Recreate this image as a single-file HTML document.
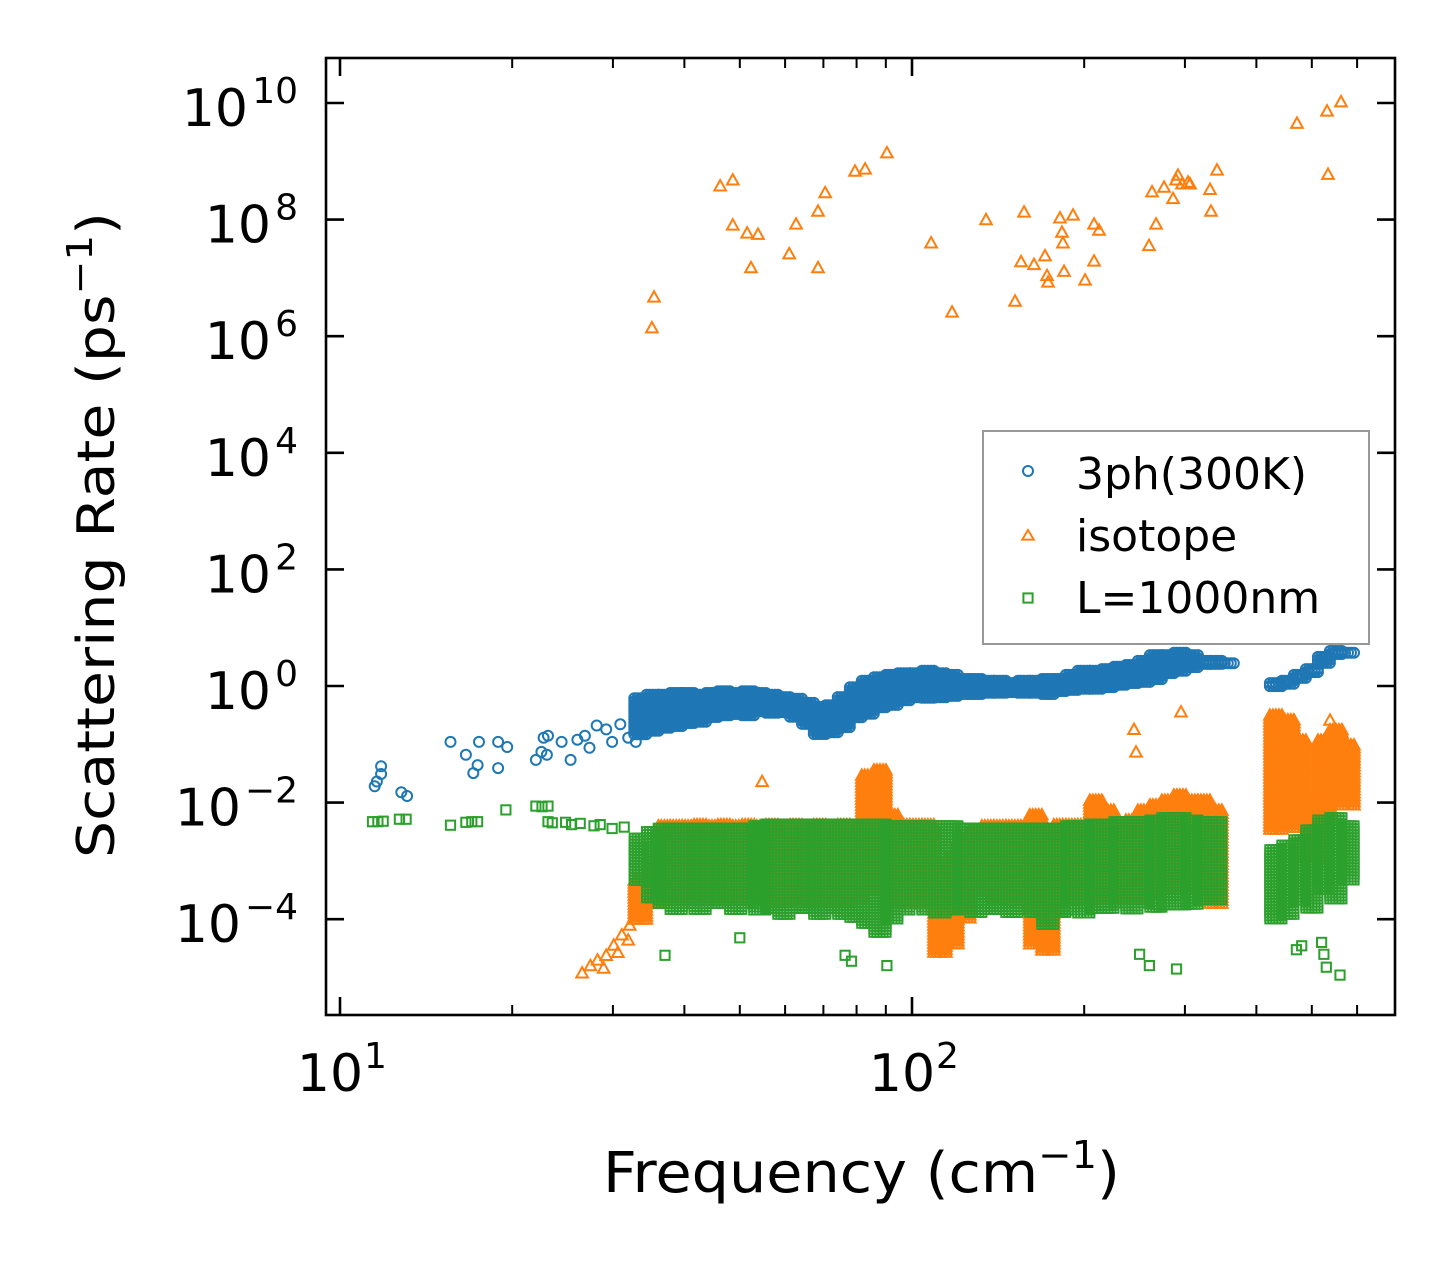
<!DOCTYPE html>
<html><head><meta charset="utf-8"><style>
html,body{margin:0;padding:0;background:#fff}
svg{display:block;font-family:"DejaVu Sans","Liberation Sans",sans-serif}
</style></head><body>
<svg id="chart" width="1455" height="1265" viewBox="0 0 1455 1265" xmlns="http://www.w3.org/2000/svg">
<rect width="1455" height="1265" fill="#fff"/>
<g id="marks"></g>
<g id="axes"></g>
</svg>
<script>
// ---- data ----
const xTickExps = [1, 2];
const yTickExps = [-4, -2, 0, 2, 4, 6, 8, 10];
const xMinorVals = [20,30,40,50,60,70,80,90,200,300,400,500,600];
// shared column frequencies for dense bands (cm^-1)
const colFreq = [33.5,35.2,36.9,38.7,40.6,42.6,44.7,46.9,49.2,51.7,54.2,56.9,59.7,62.7,65.8,69.0,72.4,76.0,79.8,83.7,87.9,92.2,96.8,101.6,106.6,111.9,117.4,123.2,129.3,135.7,142.4,149.5,156.9,164.6,172.8,181.3,190.3,199.7,209.6,220.0,230.9,242.3,254.3,266.9,280.1,294.0,308.5,323.8,339.8,356.6,374.3,392.8,412.3,432.7,454.1,476.6,500.2,525.0,551.0,578.3];
// 3ph dense band (log10 rate, upper / lower)
const ph3LogHi = [-0.21,-0.15,-0.15,-0.12,-0.12,-0.15,-0.12,-0.09,-0.12,-0.09,-0.12,-0.15,-0.19,-0.22,-0.29,-0.36,-0.33,-0.19,-0.02,0.09,0.15,0.19,0.22,0.22,0.26,0.22,0.19,0.12,0.12,0.09,0.09,0.05,0.09,0.09,0.12,0.12,0.19,0.26,0.26,0.29,0.33,0.36,0.43,0.53,0.53,0.57,0.53,0.43,0.43,0.39,null,null,null,0.05,0.09,0.19,0.29,0.50,0.60,0.57];
const ph3LogLo = [-0.87,-0.81,-0.75,-0.70,-0.67,-0.63,-0.58,-0.53,-0.50,-0.50,-0.46,-0.46,-0.46,-0.53,-0.67,-0.87,-0.84,-0.75,-0.58,-0.50,-0.39,-0.33,-0.29,-0.24,-0.22,-0.19,-0.19,-0.15,-0.15,-0.12,-0.12,-0.12,-0.15,-0.12,-0.15,-0.12,-0.09,-0.09,-0.05,-0.05,0.02,0.05,0.05,0.12,0.19,0.22,0.29,0.33,0.33,0.36,null,null,null,-0.02,0.02,0.09,0.19,0.36,0.50,0.53];
// isotope dense band
const isoLogHi = [-3.33,-3.16,-2.40,-2.40,-2.40,-2.38,-2.40,-2.38,-2.40,-2.38,-2.40,-2.38,-2.40,-2.38,-2.40,-2.38,-2.40,-2.38,-2.40,-1.53,-1.44,-2.21,-2.38,-2.38,-2.38,-3.33,-2.98,-2.64,-2.47,-2.40,-2.40,-2.40,-2.40,-2.21,-2.47,-2.38,-2.38,-2.38,-1.96,-2.13,-2.40,-2.30,-2.13,-2.04,-1.96,-1.87,-1.96,-1.96,-2.13,null,null,null,null,-0.50,-0.58,-0.93,-1.96,-0.93,-0.75,-1.01];
const isoLogLo = [-4.01,-3.76,-3.67,-3.67,-3.67,-3.67,-3.67,-3.67,-3.67,-3.67,-3.67,-3.67,-3.67,-3.67,-3.67,-3.67,-3.67,-3.67,-3.67,-3.50,-3.33,-3.50,-3.76,-3.76,-3.76,-4.61,-4.44,-4.01,-3.50,-3.50,-3.67,-3.67,-3.67,-4.44,-4.53,-3.67,-3.67,-3.67,-3.50,-3.67,-3.67,-3.67,-3.58,-3.50,-3.50,-3.33,-3.33,-3.50,-3.76,null,null,null,null,-2.47,-2.30,-2.47,-2.98,-2.30,-1.96,-2.04];
// boundary (L=1000nm) dense band
const bdLogHi = [-2.61,-2.50,-2.44,-2.44,-2.44,-2.44,-2.44,-2.44,-2.44,-2.44,-2.40,-2.37,-2.37,-2.37,-2.37,-2.37,-2.37,-2.37,-2.37,-2.37,-2.37,-2.40,-2.40,-2.40,-2.40,-2.40,-2.40,-2.44,-2.44,-2.44,-2.44,-2.44,-2.44,-2.44,-2.44,-2.44,-2.40,-2.40,-2.37,-2.37,-2.33,-2.33,-2.33,-2.30,-2.26,-2.26,-2.30,-2.33,-2.33,null,null,null,null,-2.81,-2.73,-2.64,-2.47,-2.30,-2.26,-2.40];
const bdLogLo = [-3.33,-3.67,-3.76,-3.84,-3.76,-3.84,-3.76,-3.76,-3.84,-3.76,-3.84,-3.84,-3.93,-3.84,-3.84,-3.93,-3.84,-3.93,-4.01,-4.10,-4.27,-4.01,-3.84,-3.76,-3.84,-3.93,-3.84,-3.84,-3.93,-3.84,-3.84,-3.93,-3.84,-3.93,-4.10,-3.93,-3.84,-3.93,-3.84,-3.84,-3.76,-3.84,-3.76,-3.84,-3.76,-3.76,-3.76,-3.67,-3.67,null,null,null,null,-4.01,-3.93,-3.67,-3.84,-3.50,-3.67,-3.33];
// sparse points
const ph3Freq = [11.5,11.6,11.8,11.8,12.8,13.1,15.6,16.6,17.5,17.1,17.4,18.9,18.9,19.6,22.0,22.5,22.7,23.1,23.0,24.4,25.3,26.0,26.8,27.3,28.1,29.2,29.9,30.9,31.9,32.9];
const ph3Rate = [0.019,0.023,0.042,0.031,0.015,0.013,0.11,0.066,0.11,0.032,0.044,0.11,0.039,0.09,0.054,0.074,0.13,0.14,0.066,0.11,0.054,0.12,0.14,0.087,0.21,0.18,0.11,0.22,0.13,0.11];
const isoFreq = [35.1,35.4,46.2,48.6,48.6,51.5,52.3,53.8,61.0,62.7,68.5,68.5,70.5,79.5,82.8,90.4,108,117.5,134.7,151.4,155.1,157,163.4,170.8,172.2,172.9,181.4,182.9,183.6,184.4,191.2,200.7,208.1,208.1,212.3,259.6,262.8,267.1,275.8,286,289.5,291.7,296.5,303.8,306.2,331.9,333.2,341.4,471,531.6,533.7,562.3,244.4,246.4,295.3,54.7,538,26.5,27.4,28.2,29.2,30.1,31.1,32.1,32.9,28.9,30.6,31.9];
const isoRate = [1.4e6,4.7e6,3.8e8,4.8e8,8.1e7,5.9e7,1.5e7,5.6e7,2.6e7,8.4e7,1.5e7,1.4e8,2.9e8,6.8e8,7.4e8,1.4e9,4.0e7,2.6e6,1.0e8,4.0e6,1.9e7,1.35e8,1.7e7,2.4e7,1.1e7,8.5e6,1.07e8,6.1e7,4.0e7,1.3e7,1.2e8,9.2e6,1.95e7,8.4e7,6.6e7,3.6e7,3.0e8,8.4e7,3.6e8,2.3e8,4.8e8,5.8e8,4.1e8,4.4e8,4.1e8,3.3e8,1.4e8,7.1e8,4.5e9,7.3e9,6.0e8,1.05e10,0.18,0.074,0.36,0.023,0.26,1.2e-5,1.6e-5,2.0e-5,2.4e-5,3.6e-5,5.4e-5,7.9e-5,1.2e-4,1.45e-5,2.7e-5,4.4e-5];
const bdFreq = [11.4,11.65,11.9,12.7,13.05,15.6,16.6,17.0,17.4,19.5,22.0,22.55,23.1,23.1,23.5,24.8,25.4,26.3,27.8,28.5,29.9,31.4,50,37.0,76.4,78.4,90.4,260,290,250,560,520,525,530,480,470];
const bdRate = [0.0047,0.0047,0.0048,0.0052,0.0052,0.0041,0.0046,0.0047,0.0047,0.0075,0.0087,0.0085,0.0087,0.0047,0.0045,0.0046,0.0042,0.0044,0.0040,0.0042,0.0036,0.0038,4.8e-5,2.4e-5,2.4e-5,1.9e-5,1.6e-5,1.6e-5,1.4e-5,2.5e-5,1.1e-5,4e-5,2.5e-5,1.5e-5,3.5e-5,3e-5];

// ---- axes mapping ----
const X0=340, XDEC=572, Y0=686, YDEC=58.3;
const PL=326, PR=1395, PT=58, PB=1015;
function xs(f){return X0+(Math.log10(f)-1)*XDEC;}
function ysLog(l){return Y0-l*YDEC;}
function ys(v){return ysLog(Math.log10(v));}

const NS="http://www.w3.org/2000/svg";
const marks=document.getElementById('marks');
const axes=document.getElementById('axes');
function mk(tag,attrs,parent){const e=document.createElementNS(NS,tag);for(const k in attrs)e.setAttribute(k,attrs[k]);(parent||marks).appendChild(e);return e;}

const C_BLUE="#1f77b4", C_OR="#ff7f0e", C_GR="#2ca02c";
function circle(x,y,g){return mk('circle',{cx:x.toFixed(1),cy:y.toFixed(1),r:5,fill:'none',stroke:C_BLUE,'stroke-width':2},g);}
function tri(x,y,g){const s=5.8;return mk('polygon',{points:`${x},${y-s} ${x-s},${y+s*0.8} ${x+s},${y+s*0.8}`,fill:'none',stroke:C_OR,'stroke-width':2},g);}
function sq(x,y,g){return mk('rect',{x:(x-4.6).toFixed(1),y:(y-4.6).toFixed(1),width:9.2,height:9.2,fill:'none',stroke:C_GR,'stroke-width':2},g);}

function drawBand(g,hi,lo,fn){
  for(let i=0;i<colFreq.length;i++){
    if(hi[i]==null||lo[i]==null)continue;
    const x=xs(colFreq[i]);
    const yTop=ysLog(hi[i]), yBot=ysLog(lo[i]);
    for(let dx=-6;dx<=6;dx+=3){
      for(let y=yTop;y<=yBot+0.1;y+=3){fn(x+dx,y,g);}
    }
  }
}

const gB=mk('g',{});


ph3Freq.forEach((f,i)=>circle(xs(f),ys(ph3Rate[i]),gB));
drawBand(gB,ph3LogHi,ph3LogLo,circle);
const gO=mk('g',{});


isoFreq.forEach((f,i)=>tri(xs(f),ys(isoRate[i]),gO));
drawBand(gO,isoLogHi,isoLogLo,tri);
const gG=mk('g',{});


bdFreq.forEach((f,i)=>sq(xs(f),ys(bdRate[i]),gG));
drawBand(gG,bdLogHi,bdLogLo,sq);

const cp=mk('clipPath',{id:'pc'},document.getElementById('chart'));
mk('rect',{x:PL,y:PT,width:PR-PL,height:PB-PT},cp);
marks.setAttribute('clip-path','url(#pc)');

const frame=mk('rect',{x:PL,y:PT,width:PR-PL,height:PB-PT,fill:'none',stroke:'#000','stroke-width':2.6},axes);



xTickExps.forEach(e=>{
  const x=xs(Math.pow(10,e));
  mk('line',{x1:x,x2:x,y1:PB,y2:PB-18,stroke:'#000','stroke-width':2.6},axes);
  mk('line',{x1:x,x2:x,y1:PT,y2:PT+18,stroke:'#000','stroke-width':2.6},axes);
  const t=mk('text',{x:x-10,y:1091,'font-size':52,'text-anchor':'middle'},axes);
  
  
  t.textContent='10';
  const s=mk('text',{x:x+24,y:1068,'font-size':36,'text-anchor':'start'},axes);
  s.textContent=String(e);
});
xMinorVals.forEach(v=>{
  const x=xs(v); if(x>PR)return;
  mk('line',{x1:x,x2:x,y1:PB,y2:PB-10,stroke:'#000','stroke-width':2},axes);
  mk('line',{x1:x,x2:x,y1:PT,y2:PT+10,stroke:'#000','stroke-width':2},axes);
});
yTickExps.forEach(e=>{
  const y=ysLog(e);
  mk('line',{x1:PL,x2:PL+18,y1:y,y2:y,stroke:'#000','stroke-width':2.6},axes);
  mk('line',{x1:PR,x2:PR-18,y1:y,y2:y,stroke:'#000','stroke-width':2.6},axes);
  const lab=String(e).replace('-','\u2212');
  const s=mk('text',{x:298,y:y,'font-size':36,'text-anchor':'end'},axes);
  s.textContent=lab;
  const supW=String(Math.abs(e)).length*23+(e<0?30:0);
  const t=mk('text',{x:298-supW-4,y:y+23,'font-size':52,'text-anchor':'end'},axes);
  
  
  t.textContent='10';
});
</script>
<svg style="position:absolute;left:0;top:0" width="1455" height="1265">
<text x="603" y="1192" font-size="56" textLength="517" lengthAdjust="spacingAndGlyphs" font-family="DejaVu Sans, Liberation Sans, sans-serif">Frequency (cm<tspan font-size="38" dy="-24">−1</tspan><tspan dy="24">)</tspan></text>
<text transform="translate(114,858) rotate(-90)" x="0" y="0" font-size="52" textLength="646" lengthAdjust="spacingAndGlyphs" font-family="DejaVu Sans, Liberation Sans, sans-serif">Scattering Rate (ps<tspan font-size="36" dy="-22">−1</tspan><tspan dy="22">)</tspan></text>
<g>
<rect x="983" y="431" width="386" height="213" fill="#fff" fill-opacity="0.8" stroke="#999" stroke-width="2"/>
<g><circle cx="1028" cy="471" r="5" fill="none" stroke="#1f77b4" stroke-width="2"/><text x="1076" y="489" font-size="44" font-family="DejaVu Sans, Liberation Sans, sans-serif">3ph(300K)</text></g>
<g><polygon points="1028,530 1022.2,539.6 1033.8,539.6" fill="none" stroke="#ff7f0e" stroke-width="2"/><text x="1076" y="551" font-size="44" font-family="DejaVu Sans, Liberation Sans, sans-serif">isotope</text></g>
<g><rect x="1023.4" y="593.4" width="9.2" height="9.2" fill="none" stroke="#2ca02c" stroke-width="2"/><text x="1076" y="613" font-size="44" font-family="DejaVu Sans, Liberation Sans, sans-serif">L=1000nm</text></g>
</g>
</svg>
</body></html>
